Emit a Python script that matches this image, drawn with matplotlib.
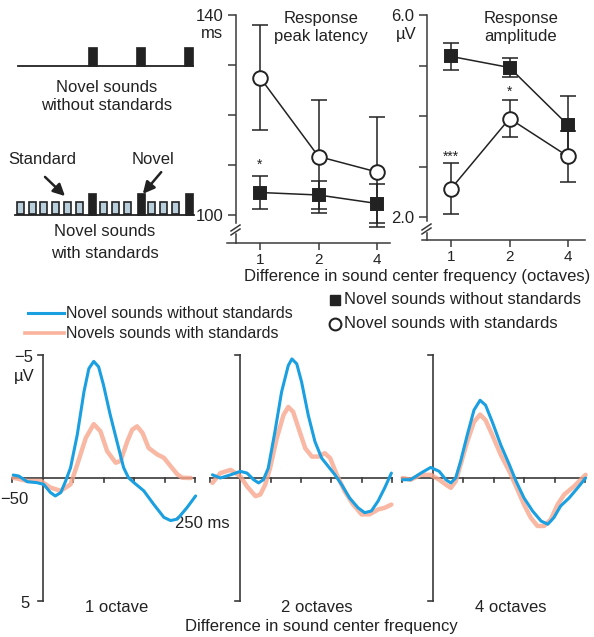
import matplotlib
matplotlib.use('Agg')
import matplotlib.pyplot as plt
from matplotlib.patches import Rectangle

plt.rcParams['font.family'] = ['Liberation Sans', 'DejaVu Sans']

# ---------------- data ----------------
octave_labels = ['1', '2', '4']
octave_pos = [1, 2, 3]

lat_without = [104.5, 104.0, 102.3]
lat_without_err = [3.3, 2.8, 3.9]
lat_with = [127.5, 111.7, 108.6]
lat_with_err = [10.5, 11.3, 11.0]

amp_without = [5.18, 4.96, 3.82]
amp_without_err = [0.27, 0.19, 0.58]
amp_with = [2.56, 3.95, 3.20]
amp_with_err = [0.50, 0.37, 0.50]

# ERP waveforms (ms, microvolts; negative up)
p1_blue_t = [-48, -39, -25, -9, 2, 13, 21, 30, 38, 46, 57, 68, 76, 84, 92, 100, 111, 122, 133, 141, 150, 166, 182, 199, 210, 221, 237, 251]
p1_blue_v = [-0.12, -0.08, 0.15, 0.19, 0.26, 0.59, 0.73, 0.59, 0.12, -0.42, -1.76, -3.51, -4.45, -4.74, -4.52, -3.78, -2.57, -1.49, -0.42, -0.01, 0.19, 0.52, 1.06, 1.6, 1.73, 1.67, 1.2, 0.73]
p1_orng_t = [-48, -25, -3, 13, 30, 46, 57, 71, 84, 95, 106, 120, 128, 139, 147, 155, 164, 174, 188, 199, 210, 221, 229, 243]
p1_orng_v = [-0.01, 0.12, 0.12, 0.39, 0.52, 0.26, -0.55, -1.63, -2.19, -1.9, -1.09, -0.62, -0.69, -1.49, -1.96, -2.1, -1.83, -1.22, -0.96, -0.82, -0.48, -0.15, -0.01, 0.0]

p2_blue_t = [-46, -33, -16, 0, 11, 22, 30, 38, 46, 57, 68, 79, 85, 93, 101, 112, 123, 134, 145, 156, 167, 180, 194, 205, 216, 227, 238, 249]
p2_blue_v = [-0.13, 0.0, -0.13, -0.27, -0.2, 0.07, 0.2, 0.07, -0.4, -1.88, -3.5, -4.57, -4.84, -4.64, -3.9, -2.55, -1.48, -0.81, -0.47, -0.13, 0.27, 0.81, 1.21, 1.41, 1.34, 0.94, 0.4, -0.2]
p2_orng_t = [-46, -33, -16, 0, 11, 25, 33, 41, 49, 60, 71, 79, 87, 96, 107, 118, 129, 139, 148, 159, 172, 186, 200, 213, 227, 238, 249]
p2_orng_v = [0.2, -0.2, -0.33, -0.07, 0.34, 0.74, 0.67, 0.27, -0.4, -1.61, -2.55, -2.89, -2.69, -2.02, -1.21, -0.87, -0.87, -1.01, -0.81, -0.13, 0.54, 1.08, 1.48, 1.48, 1.28, 1.21, 1.08]

p3_blue_t = [-49, -36, -19, -3, 11, 22, 30, 38, 46, 57, 68, 78, 87, 98, 112, 126, 137, 150, 164, 178, 189, 199, 210, 224, 238, 251]
p3_blue_v = [0.07, 0.07, -0.2, -0.43, -0.27, 0.07, 0.2, 0.0, -0.67, -1.75, -2.76, -3.16, -2.96, -2.28, -1.34, -0.54, 0.13, 0.81, 1.34, 1.75, 1.88, 1.61, 1.14, 0.81, 0.4, 0.0]
p3_orng_t = [-49, -36, -19, -3, 11, 22, 30, 38, 46, 57, 68, 78, 87, 98, 112, 126, 137, 150, 161, 172, 183, 194, 205, 216, 232, 251]
p3_orng_v = [0.0, 0.07, -0.13, -0.13, 0.07, 0.27, 0.4, 0.13, -0.54, -1.48, -2.28, -2.58, -2.35, -1.75, -0.94, -0.27, 0.34, 1.08, 1.61, 1.95, 1.95, 1.68, 1.08, 0.67, 0.34, -0.13]

panel_labels = ['1 octave', '2 octaves', '4 octaves']

# ---------------- figure ----------------
W, H = 594, 637
fig = plt.figure(figsize=(W / 100, H / 100), dpi=100)

def px_axes(l, t, r, b):
    ax = fig.add_axes([l / W, 1 - b / H, (r - l) / W, (b - t) / H])
    ax.patch.set_alpha(0)
    return ax

INK = '#222222'
AX = '#3a3a3a'
BLUE = '#1a9fe0'
ORANGE = '#f8a68c'
FS = 12

ov = px_axes(0, 0, W, H)
ov.set_xlim(0, W)
ov.set_ylim(H, 0)
ov.axis('off')

# ---------- schematic ----------
ov.plot([18, 193], [66, 66], color=INK, lw=1.3)
for x in [88, 136, 184]:
    ov.add_patch(Rectangle((x, 47), 9, 19, fc=INK, ec=INK, lw=0.5))
ov.text(107, 87, 'Novel sounds', ha='center', va='center', fontsize=FS, color=INK)
ov.text(107, 106, 'without standards', ha='center', va='center', fontsize=FS, color=INK)

ov.plot([15, 194], [215, 215], color=INK, lw=1.3)
for x in [17, 29, 40, 52, 64, 76, 100, 112, 124, 148, 160, 172]:
    ov.add_patch(Rectangle((x, 201.5), 7, 12, fc='#b9cfdc', ec=INK, lw=1.2))
for x in [88, 137, 185]:
    ov.add_patch(Rectangle((x, 193), 8, 22, fc=INK, ec=INK, lw=0.5))
ov.text(42, 160, 'Standard', ha='center', va='center', fontsize=FS, color=INK)
ov.text(153, 160, 'Novel', ha='center', va='center', fontsize=FS, color=INK)
ov.annotate('', xy=(67, 198), xytext=(43, 175),
            arrowprops=dict(arrowstyle='-|>,head_length=0.7,head_width=0.35', color=INK, lw=1.8))
ov.annotate('', xy=(141, 196), xytext=(163, 170),
            arrowprops=dict(arrowstyle='-|>,head_length=0.7,head_width=0.35', color=INK, lw=1.8))
ov.text(105, 232, 'Novel sounds', ha='center', va='center', fontsize=FS, color=INK)
ov.text(105, 253, 'with standards', ha='center', va='center', fontsize=FS, color=INK)

# ---------- top line plots ----------
def style_top(ax, spine_x, ylo_break, yticks, ylabels):
    for s in ['top', 'right']:
        ax.spines[s].set_visible(False)
    ax.spines['left'].set_position(('data', spine_x))
    ax.spines['left'].set_bounds(ylo_break, yticks[-1])
    ax.spines['left'].set_color(AX)
    ax.spines['bottom'].set_color(AX)
    ax.spines['left'].set_linewidth(1.1)
    ax.spines['bottom'].set_linewidth(1.1)
    ax.set_yticks(yticks)
    ax.set_yticklabels(ylabels)
    ax.set_xticks(octave_pos)
    ax.set_xticklabels(octave_labels)
    ax.tick_params(axis='y', direction='out', length=6, width=1.1, color=AX, pad=3, labelsize=FS, labelcolor=INK)
    ax.tick_params(axis='x', direction='out', length=5, width=1.1, color=AX, pad=2, labelsize=11, labelcolor=INK)

def draw_series(ax, vals, errs, marker, ms, mfc):
    ax.plot(octave_pos, vals, color=INK, lw=1.1, zorder=2)
    ax.errorbar(octave_pos, vals, yerr=errs, fmt='none', ecolor=INK, elinewidth=1.1,
                capsize=5.5, capthick=1.1, zorder=3)
    ax.plot(octave_pos, vals, ls='none', marker=marker, ms=ms, mfc=mfc, mec=INK, mew=1.4, zorder=4)

# Latency
ax1 = px_axes(227, 15, 390, 243)
ax1.set_xlim(0.436, 3.222)
ax1.set_ylim(94.4, 140)
style_top(ax1, 0.59, 98.4, [100, 110, 120, 130, 140], ['100', '', '', '', '140'])
ax1.plot([0.59, 0.59], [94.4, 96.2], color=AX, lw=1.1, clip_on=False)
draw_series(ax1, lat_with, lat_with_err, 'o', 10.5, 'white')
draw_series(ax1, lat_without, lat_without_err, 's', 8.5, INK)
ax1.text(1, 110, '*', ha='center', va='center', fontsize=10, color=INK)
ov.plot([231, 240], [231, 225], color=AX, lw=1.1)
ov.plot([231, 240], [235, 229], color=AX, lw=1.1)
ov.text(223, 34, 'ms', ha='right', va='center', fontsize=FS, color=INK)
ov.text(321, 19, 'Response', ha='center', va='center', fontsize=FS, color=INK)
ov.text(321, 36, 'peak latency', ha='center', va='center', fontsize=FS, color=INK)

# Amplitude
ax2 = px_axes(422, 15, 585, 240)
ax2.set_xlim(0.504, 3.29)
ax2.set_ylim(1.545, 6.0)
style_top(ax2, 0.59, 1.92, [2.0, 3.0, 4.0, 5.0, 6.0], ['2.0', '', '', '', '6.0'])
ax2.plot([0.59, 0.59], [1.545, 1.69], color=AX, lw=1.1, clip_on=False)
draw_series(ax2, amp_with, amp_with_err, 'o', 10.5, 'white')
draw_series(ax2, amp_without, amp_without_err, 's', 8.5, INK)
ax2.text(1, 3.2, '***', ha='center', va='center', fontsize=10, color=INK)
ax2.text(2, 4.48, '*', ha='center', va='center', fontsize=10, color=INK)
ov.plot([422, 431], [230, 224], color=AX, lw=1.1)
ov.plot([422, 431], [234, 228], color=AX, lw=1.1)
ov.text(417, 34, 'µV', ha='right', va='center', fontsize=FS, color=INK)
ov.text(521, 19, 'Response', ha='center', va='center', fontsize=FS, color=INK)
ov.text(521, 36, 'amplitude', ha='center', va='center', fontsize=FS, color=INK)

ov.text(417, 276, 'Difference in sound center frequency (octaves)', ha='center', va='center',
        fontsize=FS, color=INK)

# ---------- legends ----------
ov.plot([28, 64], [313, 313], color=BLUE, lw=2.2)
ov.text(66, 313, 'Novel sounds without standards', ha='left', va='center', fontsize=11.5, color=INK)
ov.plot([25, 64], [333, 333], color=ORANGE, lw=2.6, alpha=0.85)
ov.text(66, 333, 'Novels sounds with standards', ha='left', va='center', fontsize=11.5, color=INK)
ov.plot([335], [300], marker='s', ms=7.5, mfc=INK, mec=INK, ls='none')
ov.text(344, 300, 'Novel sounds without standards', ha='left', va='center', fontsize=FS, color=INK)
ov.plot([335], [324], marker='o', ms=8.5, mfc='white', mec=INK, mew=1.5, ls='none')
ov.text(344, 324, 'Novel sounds with standards', ha='left', va='center', fontsize=FS, color=INK)

# ---------- ERP panels ----------
panels = [
    ((12, 195), p1_blue_t, p1_blue_v, p1_orng_t, p1_orng_v),
    ((210, 392), p2_blue_t, p2_blue_v, p2_orng_t, p2_orng_v),
    ((402, 585), p3_blue_t, p3_blue_v, p3_orng_t, p3_orng_v),
]
label_x = [117, 317, 511]
for i, ((l, r), bt, bv, ot, of) in enumerate(panels):
    ax = px_axes(l, 355, r, 601)
    ax.set_xlim(-50, 250)
    ax.set_ylim(5, -5)
    ax.axis('off')
    ax.plot([0, 0], [-5, 5], color=AX, lw=1.2, clip_on=False)
    ax.plot([-8, 0], [-5, -5], color=AX, lw=1.2, clip_on=False)
    ax.plot([-8, 0], [5, 5], color=AX, lw=1.2, clip_on=False)
    ax.plot([-50, 250], [0, 0], color=AX, lw=1.2, clip_on=False)
    for tk in [-50, 50, 100, 150, 200, 250]:
        ax.plot([tk, tk], [0, 0.18], color=AX, lw=1.2, clip_on=False)
    ax.plot(ot, of, color=ORANGE, lw=3.2, alpha=0.8, solid_joinstyle='round',
            solid_capstyle='round', clip_on=False, zorder=3)
    ax.plot(bt, bv, color=BLUE, lw=2.2, solid_joinstyle='round',
            solid_capstyle='round', clip_on=False, zorder=4)
    ov.text(label_x[i], 607, panel_labels[i], ha='center', va='center', fontsize=FS, color=INK)

ov.text(24, 357, '\u22125', ha='center', va='center', fontsize=FS, color=INK)
ov.text(24, 376, 'µV', ha='center', va='center', fontsize=FS, color=INK)
ov.text(14, 500, '\u221250', ha='center', va='center', fontsize=FS, color=INK)
ov.text(25, 603, '5', ha='center', va='center', fontsize=FS, color=INK)
ov.text(175, 523, '250 ms', ha='left', va='center', fontsize=FS, color=INK)
ov.text(321, 627, 'Difference in sound center frequency', ha='center', va='center',
        fontsize=FS, color=INK)

fig.savefig('out.png', dpi=100)
